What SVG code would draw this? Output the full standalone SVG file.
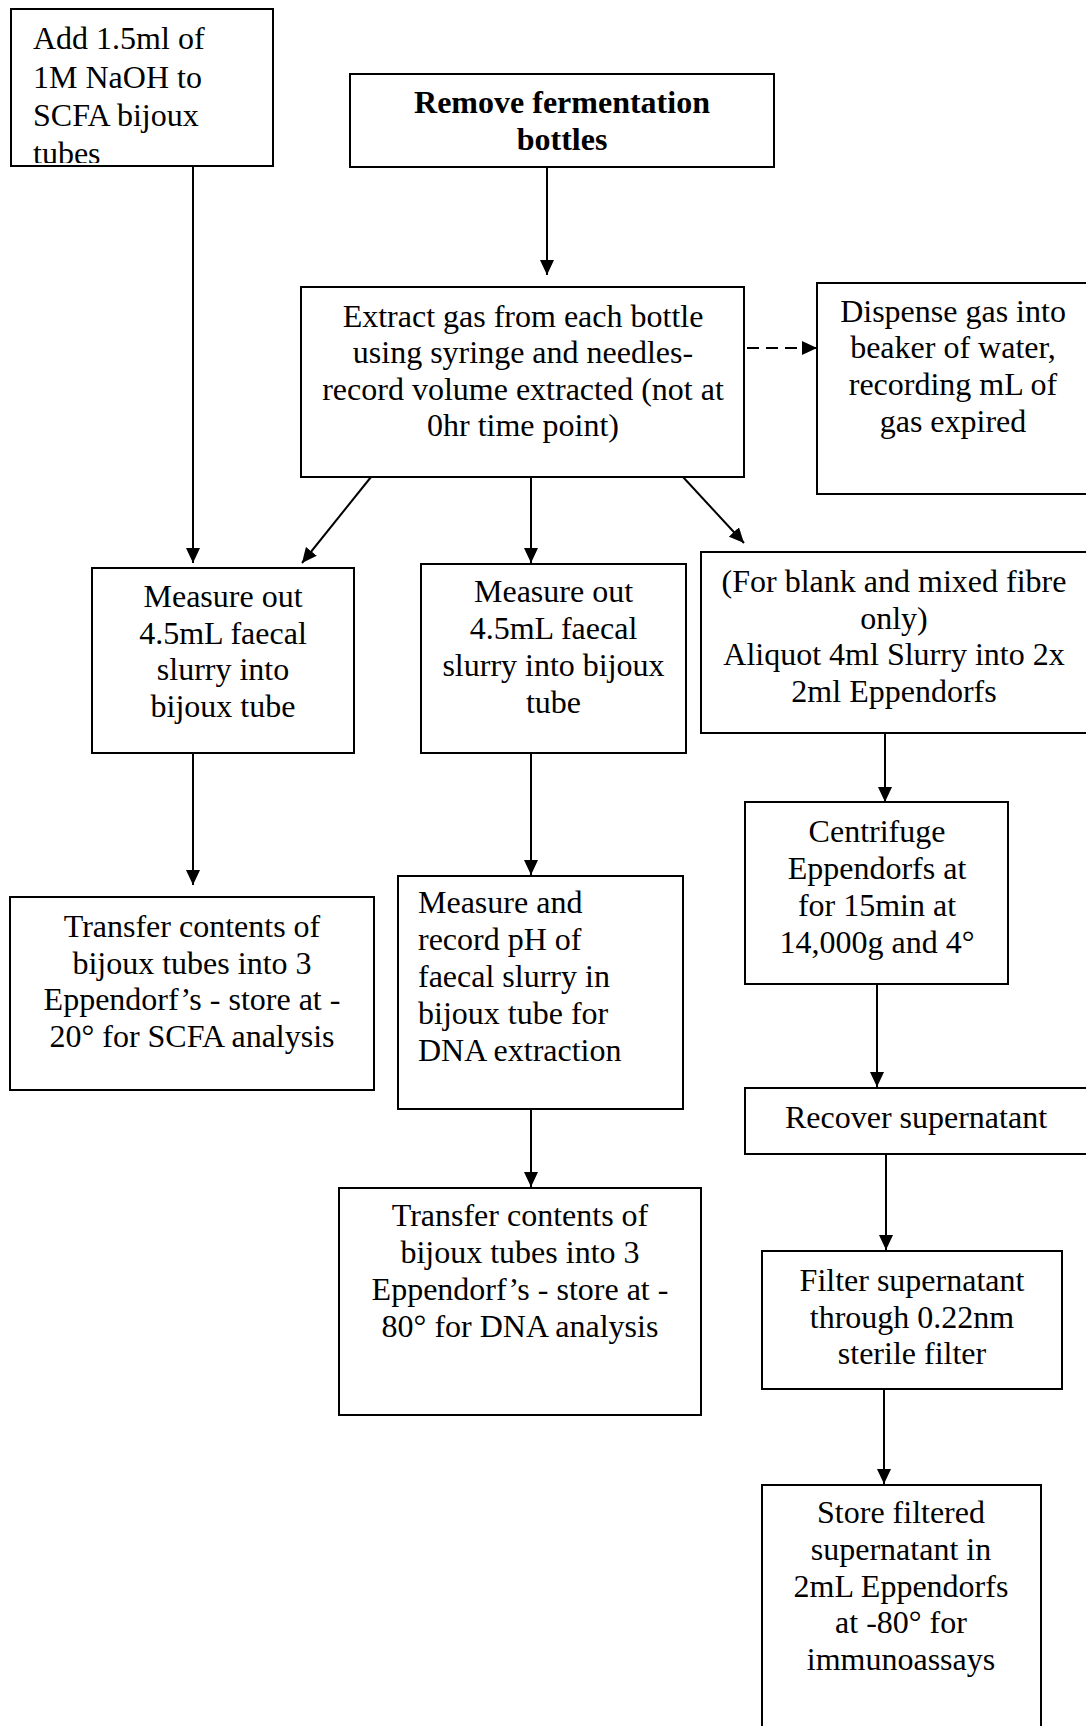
<svg xmlns="http://www.w3.org/2000/svg" width="1086" height="1726" viewBox="0 0 1086 1726">
<style>
.box{fill:#fff;stroke:#000;stroke-width:2}
.t{font-family:"Liberation Serif","Times New Roman",serif;font-size:32px;fill:#000}
.c{text-anchor:middle}
.b{font-weight:bold}
.con line{stroke:#000;stroke-width:2}
.dash{stroke-dasharray:12 7}
</style>
<defs>
<marker id="ah" markerUnits="userSpaceOnUse" markerWidth="16" markerHeight="14" refX="15" refY="7" orient="auto">
<path d="M0,0 L15,7 L0,14 Z" fill="#000"/>
</marker>
<clipPath id="clip1"><rect x="11" y="10" width="261" height="153"/></clipPath>
</defs>
<rect width="1086" height="1726" fill="#fff"/>

<g id="n1">
<rect class="box" x="11" y="9" width="262" height="157"/>
<g clip-path="url(#clip1)" class="t">
<text x="33" y="49.3">Add 1.5ml of</text>
<text x="33" y="87.6">1M NaOH to</text>
<text x="33" y="126">SCFA bijoux</text>
<text x="33" y="164.3">tubes</text>
</g>
</g>

<g id="n2">
<rect class="box" x="350" y="74" width="424" height="93"/>
<text class="t c b" x="562" y="113">Remove fermentation</text>
<text class="t c b" x="562" y="150">bottles</text>
</g>

<g id="n3">
<rect class="box" x="301" y="287" width="443" height="190"/>
<text class="t c" x="523" y="326.5">Extract gas from each bottle</text>
<text class="t c" x="523" y="363">using syringe and needles-</text>
<text class="t c" x="523" y="399.5">record volume extracted (not at</text>
<text class="t c" x="523" y="436">0hr time point)</text>
</g>

<g id="n4">
<rect class="box" x="817" y="283" width="290" height="211"/>
<text class="t c" x="953" y="321.5">Dispense gas into</text>
<text class="t c" x="953" y="358">beaker of water,</text>
<text class="t c" x="953" y="395">recording mL of</text>
<text class="t c" x="953" y="432">gas expired</text>
</g>

<g id="n5">
<rect class="box" x="92" y="568" width="262" height="185"/>
<text class="t c" x="223" y="607">Measure out</text>
<text class="t c" x="223" y="643.5">4.5mL faecal</text>
<text class="t c" x="223" y="680">slurry into</text>
<text class="t c" x="223" y="717">bijoux tube</text>
</g>

<g id="n6">
<rect class="box" x="421" y="564" width="265" height="189"/>
<text class="t c" x="553.5" y="602">Measure out</text>
<text class="t c" x="553.5" y="639">4.5mL faecal</text>
<text class="t c" x="553.5" y="676">slurry into bijoux</text>
<text class="t c" x="553.5" y="713">tube</text>
</g>

<g id="n7">
<rect class="box" x="701" y="552" width="400" height="181"/>
<text class="t c" x="894" y="592">(For blank and mixed fibre</text>
<text class="t c" x="894" y="628.5">only)</text>
<text class="t c" x="894" y="665">Aliquot 4ml Slurry into 2x</text>
<text class="t c" x="894" y="702">2ml Eppendorfs</text>
</g>

<g id="n8">
<rect class="box" x="745" y="802" width="263" height="182"/>
<text class="t c" x="877" y="842">Centrifuge</text>
<text class="t c" x="877" y="879">Eppendorfs at</text>
<text class="t c" x="877" y="916">for 15min at</text>
<text class="t c" x="877" y="953">14,000g and 4°</text>
</g>

<g id="n9">
<rect class="box" x="10" y="897" width="364" height="193"/>
<text class="t c" x="192" y="937">Transfer contents of</text>
<text class="t c" x="192" y="973.5">bijoux tubes into 3</text>
<text class="t c" x="192" y="1010">Eppendorf’s - store at -</text>
<text class="t c" x="192" y="1047">20° for SCFA analysis</text>
</g>

<g id="n10">
<rect class="box" x="398" y="876" width="285" height="233"/>
<text class="t" x="418" y="913">Measure and</text>
<text class="t" x="418" y="950">record pH of</text>
<text class="t" x="418" y="987">faecal slurry in</text>
<text class="t" x="418" y="1024">bijoux tube for</text>
<text class="t" x="418" y="1061">DNA extraction</text>
</g>

<g id="n11">
<rect class="box" x="339" y="1188" width="362" height="227"/>
<text class="t c" x="520" y="1226">Transfer contents of</text>
<text class="t c" x="520" y="1263">bijoux tubes into 3</text>
<text class="t c" x="520" y="1300">Eppendorf’s - store at -</text>
<text class="t c" x="520" y="1337">80° for DNA analysis</text>
</g>

<g id="n12">
<rect class="box" x="745" y="1088" width="360" height="66"/>
<text class="t c" x="916" y="1128">Recover supernatant</text>
</g>

<g id="n13">
<rect class="box" x="762" y="1251" width="300" height="138"/>
<text class="t c" x="912" y="1291">Filter supernatant</text>
<text class="t c" x="912" y="1327.5">through 0.22nm</text>
<text class="t c" x="912" y="1364">sterile filter</text>
</g>

<g id="n14">
<rect class="box" x="762" y="1485" width="279" height="260"/>
<text class="t c" x="901" y="1523">Store filtered</text>
<text class="t c" x="901" y="1560">supernatant in</text>
<text class="t c" x="901" y="1597">2mL Eppendorfs</text>
<text class="t c" x="901" y="1633">at -80° for</text>
<text class="t c" x="901" y="1670">immunoassays</text>
</g>

<g id="connectors" class="con">
<line x1="193" y1="166" x2="193" y2="563" marker-end="url(#ah)"/>
<line x1="547" y1="167" x2="547" y2="275" marker-end="url(#ah)"/>
<line x1="371" y1="477" x2="302" y2="563" marker-end="url(#ah)"/>
<line x1="531" y1="477" x2="531" y2="563" marker-end="url(#ah)"/>
<line x1="683" y1="477" x2="744" y2="543" marker-end="url(#ah)"/>
<line class="dash" x1="747" y1="348" x2="817" y2="348" marker-end="url(#ah)"/>
<line x1="193" y1="753" x2="193" y2="885" marker-end="url(#ah)"/>
<line x1="531" y1="753" x2="531" y2="875" marker-end="url(#ah)"/>
<line x1="531" y1="1109" x2="531" y2="1187" marker-end="url(#ah)"/>
<line x1="885" y1="733" x2="885" y2="802" marker-end="url(#ah)"/>
<line x1="877" y1="984" x2="877" y2="1087" marker-end="url(#ah)"/>
<line x1="886" y1="1154" x2="886" y2="1250" marker-end="url(#ah)"/>
<line x1="884" y1="1389" x2="884" y2="1484" marker-end="url(#ah)"/>
</g>
</svg>
